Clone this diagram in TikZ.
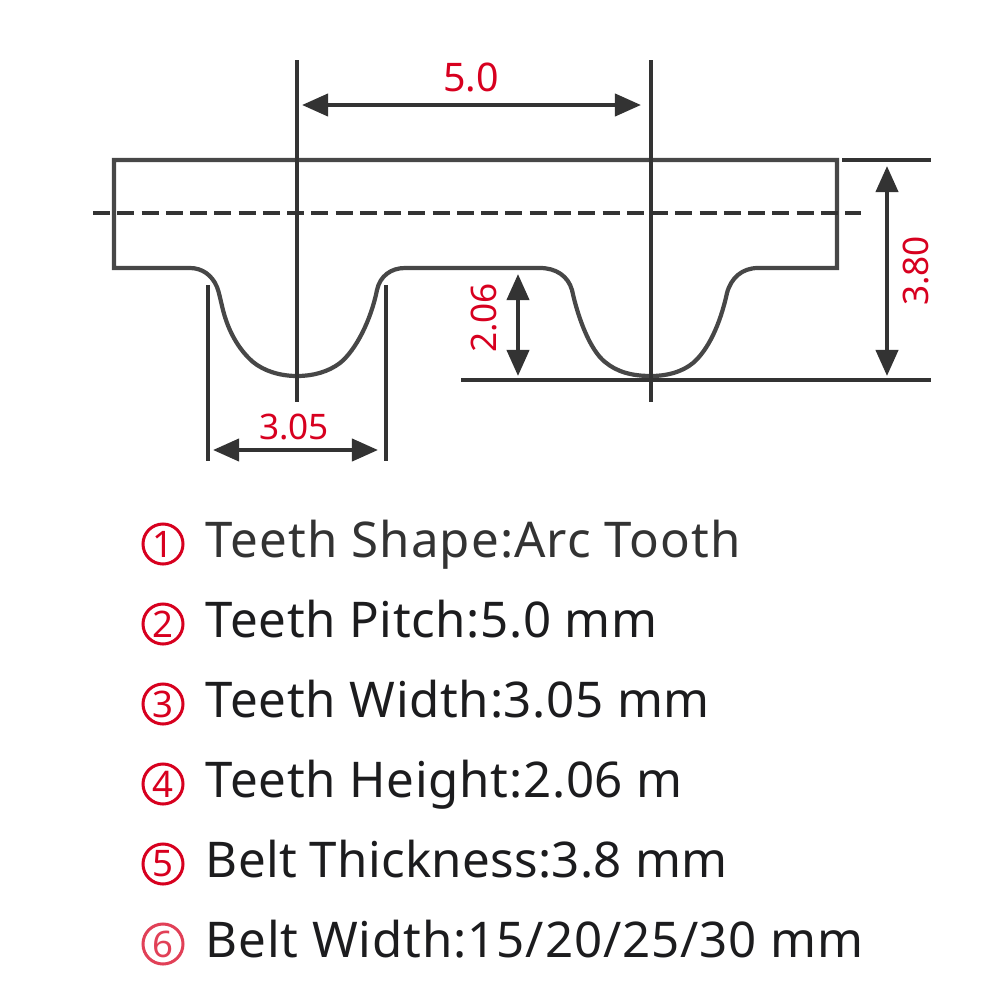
\documentclass[tikz,border=0pt]{standalone}
\usepackage{fontspec}
\setmainfont{Noto Sans}
\usetikzlibrary{arrows.meta}
\definecolor{ink}{HTML}{333333}
\definecolor{redt}{HTML}{D7001F}
\definecolor{txt}{HTML}{1C1C1E}
\tikzset{
 x=0.01cm,y=-0.01cm,
 dim/.style={draw=ink,line width=0.04cm},
 belt/.style={draw=ink!90,line width=0.042cm,line join=miter},
 dimarrow/.style={draw=ink,line width=0.04cm,{Triangle[length=0.26cm,width=0.22cm]}-{Triangle[length=0.26cm,width=0.22cm]}},
 dimlabel/.style={text=redt,inner sep=0pt,font=\fontsize{10}{12}\selectfont},
 circ/.style={circle,draw=redt,line width=0.03cm,minimum size=0.4cm,inner sep=0pt,text=redt,font=\fontsize{10.4}{12}\selectfont},
 item/.style={anchor=base west,inner sep=0pt,text=txt,font=\fontsize{14}{16}\selectfont\addfontfeature{LetterSpace=#1}},
}
\begin{document}
\begin{tikzpicture}
\useasboundingbox (0,0) rectangle (1000,1000);
% belt
\draw[belt] (114,160) -- (837,160) -- (837,268) -- (758,268)
  .. controls (742,268) and (731,278) .. (727,293)
  .. controls (720,325) and (708,350) .. (693,363)
  .. controls (682,372) and (667,376) .. (651,376)
  .. controls (632,376) and (617,372) .. (605,362)
  .. controls (590,350) and (578,318) .. (572,290)
  .. controls (568,276) and (556,268) .. (540,268)
  -- (405,268)
  .. controls (391,268) and (380,276) .. (377,290)
  .. controls (371,320) and (356,350) .. (340,363)
  .. controls (328,372) and (313,376) .. (297,376)
  .. controls (280,376) and (264,371) .. (253,362)
  .. controls (238,349) and (228,330) .. (223,310)
  .. controls (220,298) and (219,292) .. (217,287)
  .. controls (212,275) and (202,268) .. (190,268)
  -- (114,268) -- cycle;
% centre line
\coordinate (dl) at (93,213); \coordinate (dr) at (861,213);
\draw[dim,dash pattern=on 0.17cm off 0.0725cm] (dl) -- (dr);
% extension lines
\coordinate (p1t) at (297,60); \coordinate (p1b) at (297,402);
\coordinate (p2t) at (651,60); \coordinate (p2b) at (651,402);
\draw[dim] (p1t) -- (p1b);
\draw[dim] (p2t) -- (p2b);
\coordinate (tl) at (842,160); \coordinate (tr) at (931,160);
\coordinate (bl) at (461,380); \coordinate (br) at (931,380);
\draw[dim] (tl) -- (tr);
\draw[dim] (bl) -- (br);
\coordinate (wlt) at (208,285); \coordinate (wlb) at (208,461);
\coordinate (wrt) at (386,285); \coordinate (wrb) at (386,461);
\draw[dim] (wlt) -- (wlb);
\draw[dim] (wrt) -- (wrb);
% dimension arrows
\coordinate (a1) at (302,105); \coordinate (a2) at (641,105);
\draw[dimarrow] (a1) -- (a2);
\coordinate (b1) at (213,450); \coordinate (b2) at (378,450);
\draw[dimarrow] (b1) -- (b2);
\coordinate (c1) at (518,274); \coordinate (c2) at (518,376);
\draw[dimarrow] (c1) -- (c2);
\coordinate (d1) at (887,166); \coordinate (d2) at (887,376);
\draw[dimarrow] (d1) -- (d2);
% labels
\node[dimlabel,font=\fontsize{11.2}{13}\selectfont] (l50) at (471,77) {5.0};
\node[dimlabel] (l305) at (294,427) {3.05};
\node[dimlabel,rotate=90] (l206) at (484,318) {2.06};
\node[dimlabel,rotate=90] (l380) at (916,271) {3.80};
% list
\node[circ] (n1) at (163,544) {1};
\node[item=2.2,text=ink] (t1) at (205,557) {Teeth Shape:Arc Tooth};
\node[circ] (n2) at (163,624) {2};
\node[item=1.3] (t2) at (205,637) {Teeth Pitch:5.0 mm};
\node[circ] (n3) at (163,704) {3};
\node[item=1.4] (t3) at (205,717) {Teeth Width:3.05 mm};
\node[circ] (n4) at (163,784) {4};
\node[item=1.45] (t4) at (205,797) {Teeth Height:2.06 m};
\node[circ] (n5) at (163,864) {5};
\node[item=0.6] (t5) at (205,877) {Belt Thickness:3.8 mm};
\node[circ,draw=redt!75,text=redt!75] (n6) at (163,944) {6};
\node[item=1.8] (t6) at (205,957) {Belt Width:15/20/25/30 mm};
\end{tikzpicture}
\end{document}
